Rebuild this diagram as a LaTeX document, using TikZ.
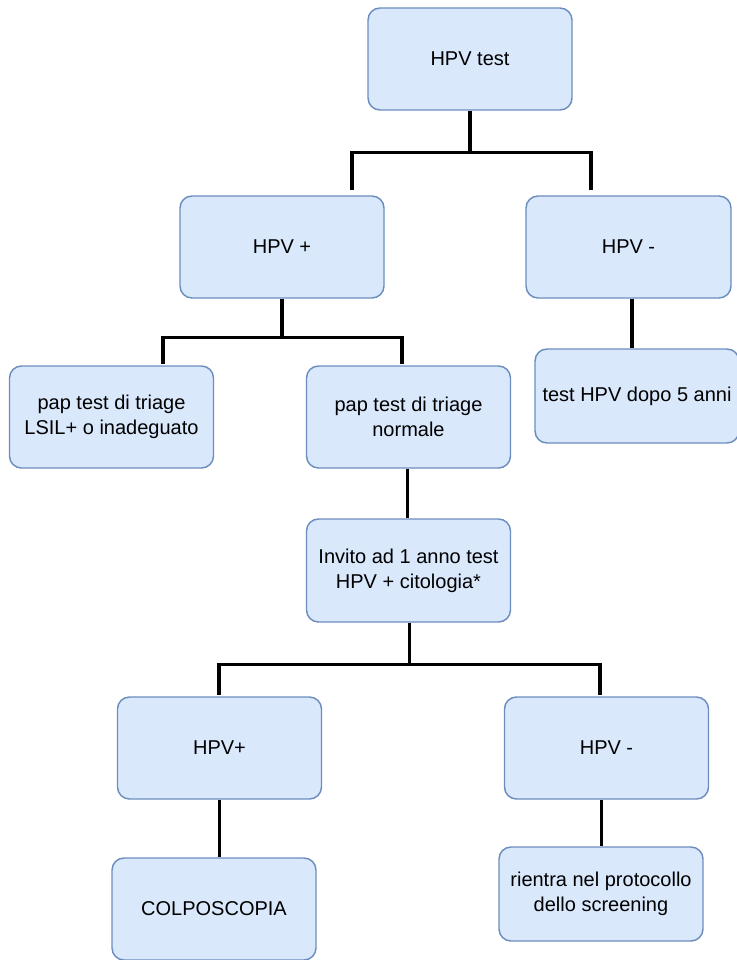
\documentclass[tikz,border=0pt]{standalone}
\usepackage{fontspec}
\setmainfont{Liberation Sans}
\definecolor{boxfill}{HTML}{DAE8FC}
\definecolor{boxline}{HTML}{6C8EBF}
\begin{document}
\begin{tikzpicture}[x=0.75pt,y=-0.75pt,
  box/.style={draw=boxline,fill=boxfill,line width=1.1pt,rounded corners=9pt,
    minimum width=153pt,minimum height=76.5pt,align=center,inner sep=0pt,
    font=\fontsize{15}{18.5}\selectfont},
  short/.style={minimum height=70.5pt},
  conn/.style={line width=2.4pt,black,line join=miter}]
\useasboundingbox (0,0) rectangle (737,960);
\node[box] (top) at (470,59) {HPV test};
\node[box] (hpvp) at (282,247) {HPV +};
\node[box,minimum width=153.75pt] (hpvm) at (628.5,247) {HPV -};
\node[box] (lsil) at (111.5,417) {pap test di triage\\LSIL+ o inadeguato};
\node[box] (norm) at (408.5,417) {pap test di triage\\normale};
\node[box,short] (five) at (637,396) {test HPV dopo 5 anni};
\node[box,minimum height=77.25pt] (inv) at (408.5,570.5) {Invito ad 1 anno test\\HPV + citologia*};
\node[box] (hpvpb) at (219.5,748) {HPV+};
\node[box] (hpvmb) at (606.5,748) {HPV -};
\node[box] (colpo) at (214,909) {COLPOSCOPIA};
\node[box,short] (rient) at (601,894) {rientra nel protocollo\\dello screening};
% branch end points
\coordinate (t1) at (352,190);
\coordinate (t2) at (591,190);
\coordinate (p1) at (163,364);
\coordinate (p2) at (402,364);
\coordinate (i1) at (219,695);
\coordinate (i2) at (600,695);
\draw[conn] (top.south) -- ([yshift=-31.5pt]top.south) -| (t1);
\draw[conn] ([yshift=-31.5pt]top.south) -| (t2);
\draw[conn] (hpvp.south) -- ([yshift=-29.25pt]hpvp.south) -| (p1);
\draw[conn] ([yshift=-29.25pt]hpvp.south) -| (p2);
\draw[conn] ([xshift=2.6pt]hpvm.south) -- ([xshift=2.6pt]hpvm.south |- five.north);
\draw[conn] ([xshift=-1pt]norm.south) -- ([xshift=-1pt]norm.south |- inv.north);
\draw[conn] ([xshift=1pt]inv.south) -- ([xshift=1pt,yshift=-31.5pt]inv.south) -| (i1);
\draw[conn] ([xshift=1pt,yshift=-31.5pt]inv.south) -| (i2);
\draw[conn] (hpvpb.south) -- (hpvpb.south |- colpo.north);
\draw[conn] ([xshift=-4pt]hpvmb.south) -- ([xshift=-4pt]hpvmb.south |- rient.north);
\end{tikzpicture}
\end{document}
